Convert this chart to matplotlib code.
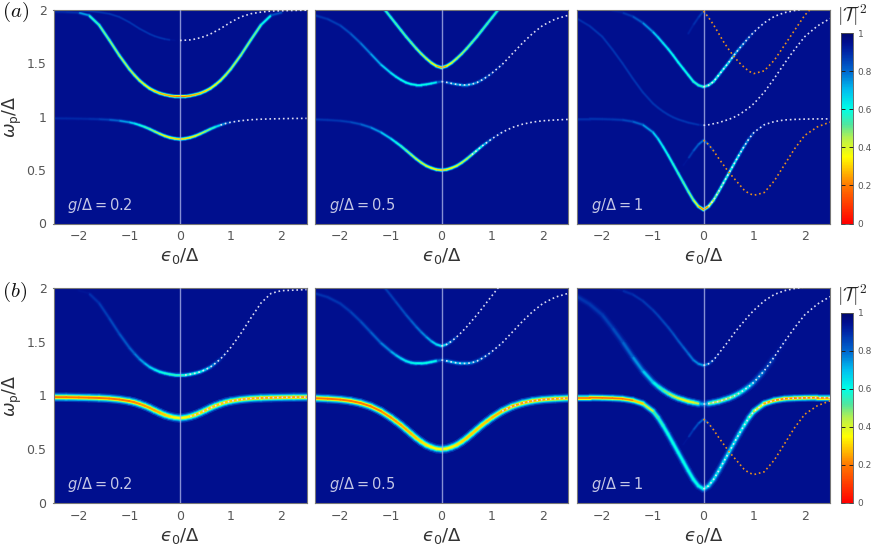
import numpy as np
import matplotlib
matplotlib.use('Agg')
import matplotlib.pyplot as plt
from matplotlib.collections import LineCollection
from matplotlib.colors import LinearSegmentedColormap, Normalize
from matplotlib.cm import ScalarMappable

# detuning grid (eps0/Delta >= 0), branches are mirrored for eps0 < 0
eps = [0, 0.1, 0.2, 0.3, 0.4, 0.5, 0.6, 0.7, 0.8, 0.9, 1.0, 1.2, 1.4, 1.6, 1.8, 2.0, 2.25, 2.5]
g_values = [0.2, 0.5, 1]

# resonance positions omega_p/Delta
w02_up = [1.19, 1.19, 1.197, 1.207, 1.22, 1.24, 1.265, 1.30, 1.34, 1.39, 1.445, 1.575, 1.72, 1.86, 1.95, 1.975, 1.98, 1.985]
w02_low = [0.79, 0.795, 0.805, 0.82, 0.84, 0.862, 0.885, 0.905, 0.922, 0.937, 0.948, 0.963, 0.972, 0.977, 0.98, 0.982, 0.984, 0.985]
w02_top = [1.715, 1.717, 1.72, 1.728, 1.74, 1.755, 1.775, 1.80, 1.825, 1.855, 1.885, 1.935, 1.965, 1.98, 1.99, 1.993, 1.996, 1.998]

w05_v = [1.46, 1.475, 1.505, 1.545, 1.59, 1.64, 1.695, 1.75, 1.81, 1.87, 1.93, 2.05, 2.17, 2.29, 2.41, 2.53, 2.68, 2.83]
w05_mid = [1.33, 1.322, 1.312, 1.303, 1.298, 1.298, 1.305, 1.32, 1.345, 1.375, 1.41, 1.49, 1.59, 1.69, 1.78, 1.855, 1.915, 1.95]
w05_low = [0.50, 0.505, 0.52, 0.54, 0.57, 0.605, 0.645, 0.685, 0.725, 0.76, 0.795, 0.855, 0.90, 0.93, 0.95, 0.962, 0.97, 0.975]

w1_v = [1.28, 1.295, 1.33, 1.39, 1.45, 1.51, 1.575, 1.635, 1.69, 1.745, 1.795, 1.88, 1.94, 1.975, 1.995, 2.01, 2.02, 2.03]
w1_mid = [0.92, 0.925, 0.935, 0.945, 0.96, 0.975, 0.995, 1.02, 1.05, 1.085, 1.125, 1.23, 1.36, 1.50, 1.63, 1.75, 1.85, 1.92]
w1_low = [0.13, 0.16, 0.22, 0.30, 0.385, 0.47, 0.555, 0.64, 0.72, 0.795, 0.855, 0.925, 0.955, 0.97, 0.975, 0.978, 0.98, 0.98]
w1_orange_up = [1.99, 1.93, 1.86, 1.78, 1.70, 1.63, 1.565, 1.51, 1.465, 1.425, 1.405, 1.43, 1.53, 1.67, 1.81, 1.95, 2.08, 2.2]
w1_orange_low = [0.78, 0.74, 0.68, 0.61, 0.545, 0.48, 0.425, 0.37, 0.315, 0.28, 0.265, 0.29, 0.40, 0.55, 0.70, 0.825, 0.905, 0.95]

# |T|^2 at the centre of each resonance, left (eps0<0) and right (eps0>0)
a1_up_l = [.2, .2, .22, .25, .28, .3, .33, .36, .38, .4, .42, .45, .48, .5, .6, .88, .9, .9]
a1_up_r = [.2, .2, .22, .25, .28, .3, .33, .36, .38, .4, .42, .45, .48, .5, .7, .97, .97, .97]
a1_low_l = [.3, .3, .32, .35, .4, .45, .5, .55, .6, .65, .7, .78, .85, .88, .9, .9, .9, .9]
a1_low_r = [.3, .3, .32, .35, .4, .45, .5, .6, .7, .8, .88, .95, .97, .97, .97, .97, .97, .97]
a1_top_l = [.97, .97, .9, .88, .88, .88, .88, .88, .88, .88, .88, .88, .88, .88, .88, .9, .93, .97]
a1_top_r = [.97] * 18

a2_v_l = [.2, .3, .38, .42, .45, .47, .5, .5, .52, .52, .55, .55, .55, .55, .55, .55, .55, .55]
a2_v_r = a2_v_l
a2_mid_l = [.97, .65, .6, .6, .6, .6, .6, .6, .6, .62, .64, .7, .76, .8, .84, .86, .88, .88]
a2_mid_r = [.97, .8, .75, .72, .72, .72, .74, .76, .8, .84, .88, .93, .97, .97, .97, .97, .97, .97]
a2_low_l = [.3, .32, .35, .38, .4, .42, .45, .5, .55, .6, .65, .72, .78, .83, .86, .88, .88, .88]
a2_low_r = [.3, .32, .35, .38, .4, .42, .47, .55, .65, .75, .85, .95, .97, .97, .97, .97, .97, .97]

a3_v_l = [.55, .55, .57, .58, .6, .6, .6, .62, .64, .66, .7, .8, .86, .9, .95, .97, .97, .97]
a3_v_r = [.55, .55, .57, .6, .62, .65, .7, .75, .8, .85, .9, .95, .97, .97, .97, .97, .97, .97]
a3_mid_l = [.93, .89, .88, .88, .88, .88, .88, .88, .88, .88, .88, .88, .88, .88, .88, .88, .88, .9]
a3_mid_r = [.97] * 18
a3_low_l = [.12, .3, .45, .5, .52, .55, .57, .6, .62, .65, .7, .78, .84, .87, .88, .88, .88, .9]
a3_low_r = [.12, .3, .45, .52, .55, .58, .6, .65, .7, .8, .88, .95, .97, .97, .97, .97, .97, .97]
a3_oup_l = [.86, .88, .9, .93, .97, .97, .97, .97, .97, .97, .97, .97, .97, .97, .97, .97, .97, .97]
a3_oup_r = [.88, .93, .97, .97, .97, .97, .97, .97, .97, .97, .97, .97, .97, .97, .97, .97, .97, .97]
a3_olow_l = [.78, .8, .84, .9, .97, .97, .97, .97, .97, .97, .97, .97, .97, .97, .97, .97, .97, .97]
a3_olow_r = [.78, .85, .92, .97, .97, .97, .97, .97, .97, .97, .97, .97, .97, .97, .97, .97, .97, .97]

b1_up_l = [.55, .55, .56, .58, .6, .64, .68, .72, .76, .8, .82, .84, .86, .88, .9, .97, .97, .97]
b1_up_r = [.55, .55, .56, .58, .6, .66, .72, .8, .88, .93, .97, .97, .97, .97, .97, .97, .97, .97]
b1_low_l = [.35, .35, .33, .3, .28, .26, .25, .24, .23, .22, .21, .2, .2, .2, .2, .2, .2, .2]
b1_low_r = [.35, .35, .33, .3, .3, .3, .3, .3, .3, .3, .3, .28, .27, .26, .25, .25, .25, .25]

b2_v_l = [.62, .65, .7, .75, .78, .8, .82, .84, .85, .86, .87, .87, .87, .87, .87, .87, .87, .87]
b2_v_r = [.62, .7, .8, .9, .97, .97, .97, .97, .97, .97, .97, .97, .97, .97, .97, .97, .97, .97]
b2_mid_l = [.97, .62, .6, .6, .6, .6, .62, .64, .66, .7, .74, .8, .83, .85, .87, .88, .88, .89]
b2_mid_r = [.97, .72, .7, .7, .7, .72, .75, .78, .82, .86, .9, .95, .97, .97, .97, .97, .97, .97]
b2_low_l = [.35, .35, .35, .33, .32, .3, .28, .27, .26, .25, .24, .22, .2, .2, .2, .2, .2, .2]
b2_low_r = [.35, .35, .35, .33, .32, .3, .3, .3, .3, .3, .28, .26, .25, .25, .25, .25, .25, .25]

b3_v_l = [.72, .75, .78, .8, .82, .83, .84, .85, .86, .86, .87, .88, .89, .9, .97, .97, .97, .97]
b3_v_r = [.72, .8, .88, .95, .97, .97, .97, .97, .97, .97, .97, .97, .97, .97, .97, .97, .97, .97]
b3_mid_l = [.97, .45, .4, .38, .38, .4, .43, .47, .52, .58, .64, .72, .78, .83, .86, .87, .88, .88]
b3_mid_r = [.97, .5, .45, .45, .45, .46, .5, .55, .6, .66, .72, .82, .9, .95, .97, .97, .97, .97]
b3_low_l = [.6, .6, .6, .6, .6, .6, .6, .6, .58, .55, .5, .35, .25, .2, .2, .2, .2, .2]
b3_low_r = [.6, .62, .64, .65, .65, .65, .65, .65, .62, .55, .45, .3, .22, .22, .22, .22, .22, .22]
b3_olow_l = [.8, .82, .86, .9, .97, .97, .97, .97, .97, .97, .97, .97, .97, .97, .97, .97, .97, .97]
b3_olow_r = [.8, .88, .95, .97, .97, .97, .97, .97, .97, .97, .97, .97, .97, .97, .97, .97, .97, .97]

cbar_ticks = [0, 0.2, 0.4, 0.6, 0.8, 1]
cbar_labels = ['0', '0.2', '0.4', '0.6', '0.8', '1']

# colormap
cmap = LinearSegmentedColormap.from_list('T2', [
    (0.0, '#ff0000'), (0.2, '#ff7800'), (0.35, '#ffff00'), (0.45, '#b4f050'),
    (0.52, '#50e6a0'), (0.6, '#00ffe6'), (0.7, '#00c0f0'), (0.8, '#0068d0'),
    (0.9, '#0028a8'), (0.95, '#000f90'), (1.0, '#00086e')])
norm = Normalize(0, 1)
BG = 0.95
GLOW_F = [0.12, 0.3, 0.55, 0.8, 1.0]
GLOW_W = [3.4, 2.5, 1.8, 1.2, 0.7]

W, H = 872, 545
fig = plt.figure(figsize=(W / 100, H / 100), dpi=100)

col_left = [53.5, 315, 577]
row_top = [10, 288]
row_bot = [223.5, 503]

# (omega, depth left, depth right, width, first dotted index, dot colour)
panels = [
    [[(w02_up, a1_up_l, a1_up_r, 1.0, None, None),
      (w02_low, a1_low_l, a1_low_r, 1.0, 8, 'w'),
      (w02_top, a1_top_l, a1_top_r, 0.8, 0, 'w')],
     [(w05_v, a2_v_l, a2_v_r, 1.0, None, None),
      (w05_mid, a2_mid_l, a2_mid_r, 1.0, 0, 'w'),
      (w05_low, a2_low_l, a2_low_r, 1.0, 6, 'w')],
     [(w1_v, a3_v_l, a3_v_r, 1.0, 0, 'w'),
      (w1_mid, a3_mid_l, a3_mid_r, 0.9, 0, 'w'),
      (w1_low, a3_low_l, a3_low_r, 1.0, 1, 'w'),
      (w1_orange_up, a3_oup_l, a3_oup_r, 0.9, 0, 'o'),
      (w1_orange_low, a3_olow_l, a3_olow_r, 0.9, 0, 'o')]],
    [[(w02_up, b1_up_l, b1_up_r, 1.2, 1, 'w'),
      (w02_low, b1_low_l, b1_low_r, 2.0, 2, 'w')],
     [(w05_v, b2_v_l, b2_v_r, 1.1, 0, 'w'),
      (w05_mid, b2_mid_l, b2_mid_r, 1.2, 0, 'w'),
      (w05_low, b2_low_l, b2_low_r, 2.0, 11, 'w')],
     [(w1_v, b3_v_l, b3_v_r, 1.1, 0, 'w'),
      (w1_mid, b3_mid_l, b3_mid_r, 1.8, 0, 'w'),
      (w1_low, b3_low_l, b3_low_r, 1.7, 0, 'w'),
      (w1_orange_low, b3_olow_l, b3_olow_r, 0.9, 0, 'o')]],
]
dot_colors = {'w': '#dcdcf2', 'o': '#e8901e'}

x = np.array(eps)


def draw_ridges(ax, branches):
    for k, (f, lw) in enumerate(zip(GLOW_F, GLOW_W)):
        for w, dl, dr, width, _, _ in branches:
            for sign, d in ((-1, dl), (1, dr)):
                pts = np.column_stack([sign * x, w])
                segs = np.stack([pts[:-1], pts[1:]], axis=1)
                dm = (np.array(d[:-1]) + np.array(d[1:])) / 2
                keep = dm < 0.945
                if not keep.any():
                    continue
                vals = BG - (BG - dm[keep]) * f
                lc = LineCollection(segs[keep], colors=cmap(norm(vals)),
                                    linewidths=lw * width, capstyle='round',
                                    zorder=2 + 0.1 * k)
                ax.add_collection(lc)


for r in range(2):
    for c in range(3):
        ax = fig.add_axes([col_left[c] / W, 1 - row_bot[r] / H,
                           253 / W, (row_bot[r] - row_top[r]) / H])
        ax.set_facecolor(cmap(BG))
        ax.set_xlim(-2.5, 2.5)
        ax.set_ylim(0, 2)
        draw_ridges(ax, panels[r][c])
        ax.axvline(0, color='#a8b0e6', lw=1.0, alpha=0.8, zorder=4)
        for w, dl, dr, width, i0, dc in panels[r][c]:
            if i0 is None:
                continue
            ax.plot(x[i0:], w[i0:], ls=(0, (1, 1.7)), lw=1.2,
                    color=dot_colors[dc], zorder=5)
        ax.text(0.055, 0.085, r'$g/\Delta = %s$' % g_values[c], transform=ax.transAxes,
                color='#c4c6e6', fontsize=10.5, math_fontfamily='dejavusans', va='center')
        ax.set_xticks([-2, -1, 0, 1, 2])
        ax.set_xticklabels(['\u22122', '\u22121', '0', '1', '2'])
        ax.set_yticks([0, 0.5, 1, 1.5, 2])
        if c == 0:
            ax.set_yticklabels(['0', '0.5', '1', '1.5', '2'])
            ax.set_ylabel(r'$\omega_{\rm p}/\Delta$', fontsize=12.5, color='#333333',
                          math_fontfamily='dejavusans')
            ax.yaxis.set_label_coords(-0.115, 0.5)
        else:
            ax.set_yticklabels([])
        ax.tick_params(length=0, labelsize=9, labelcolor='#555555', pad=5)
        ax.set_xlabel('$\u03f5_0/\\Delta$', fontsize=13, color='#333333',
                      math_fontfamily='dejavusans', labelpad=2)
        for sp in ax.spines.values():
            sp.set_color('#777777')
            sp.set_linewidth(0.8)

    # colour bar
    cb_top = [33, 313][r]
    cax = fig.add_axes([841 / W, 1 - row_bot[r] / H, 12 / W, (row_bot[r] - cb_top) / H])
    cb = fig.colorbar(ScalarMappable(norm=norm, cmap=cmap), cax=cax, ticks=cbar_ticks)
    cb.ax.set_yticklabels(cbar_labels)
    cb.ax.tick_params(direction='in', length=3, width=0.7, color='#222222',
                      labelsize=6.5, labelcolor='#555555', left=True, right=True)
    cb.outline.set_edgecolor('#555555')
    cb.outline.set_linewidth(0.6)
    fig.text(852 / W, 1 - [15, 295][r] / H, r'$|\mathcal{T}|^2$', fontsize=14,
             ha='center', va='center', math_fontfamily='cm', color='#222222')
    fig.text(2 / W, 1 - [12, 292][r] / H, ['$(a)$', '$(b)$'][r], fontsize=15,
             ha='left', va='center', math_fontfamily='cm', color='#111111')

fig.savefig('out.png', dpi=100)
